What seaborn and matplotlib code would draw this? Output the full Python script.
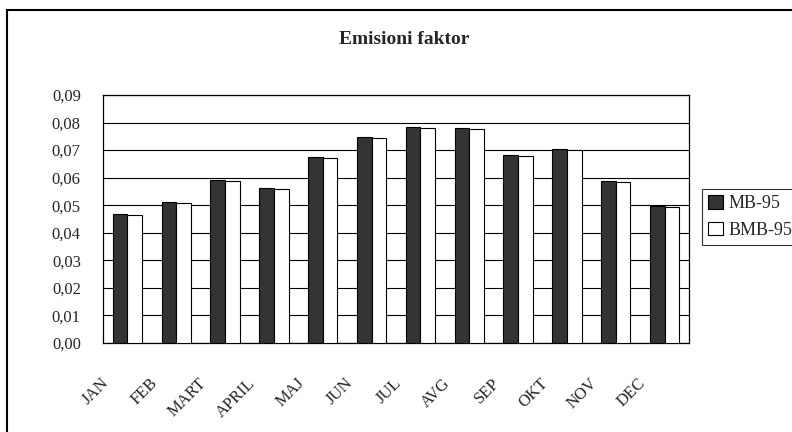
import matplotlib
matplotlib.use("Agg")
import matplotlib.pyplot as plt
import matplotlib.transforms as mtransforms
from matplotlib.patches import Rectangle, Patch
import seaborn as sns
import pandas as pd

# Monthly emission factors for the two fuel types
meseci = ["JAN", "FEB", "MART", "APRIL", "MAJ", "JUN", "JUL", "AVG", "SEP", "OKT", "NOV", "DEC"]
mb95 = [0.0468, 0.0512, 0.0590, 0.0562, 0.0675, 0.0747, 0.0785, 0.0781, 0.0682, 0.0705, 0.0588, 0.0496]
bmb95 = [0.0464, 0.0508, 0.0587, 0.0559, 0.0672, 0.0743, 0.0782, 0.0777, 0.0679, 0.0702, 0.0584, 0.0492]
serije = ["MB-95", "BMB-95"]
y_ticks = [0.00, 0.01, 0.02, 0.03, 0.04, 0.05, 0.06, 0.07, 0.08, 0.09]
naslov = "Emisioni faktor"

df = pd.DataFrame({
    "mesec": meseci * 2,
    "vrednost": mb95 + bmb95,
    "serija": [serije[0]] * len(meseci) + [serije[1]] * len(meseci),
})

sns.set_style("white")
plt.rcParams["font.family"] = ["Liberation Serif", "DejaVu Serif"]

W, H = 792, 432
fig = plt.figure(figsize=(W / 100, H / 100), dpi=100)
ax = fig.add_axes([103 / W, 1 - 343 / H, (689 - 103) / W, (343 - 95) / H])

sns.barplot(data=df, x="mesec", y="vrednost", hue="serija", order=meseci,
            hue_order=serije, palette=["#333333", "#ffffff"],
            edgecolor="black", linewidth=0.8, width=0.6, gap=0,
            saturation=1, ax=ax, legend=False, zorder=3)

ax.set_xlim(-0.5, len(meseci) - 0.5)
ax.set_ylim(0, 0.09)
ax.set_xlabel("")
ax.set_ylabel("")

# horizontal gridlines
ax.set_yticks(y_ticks)
ax.set_yticklabels([f"{v:.2f}".replace(".", ",") for v in y_ticks], fontsize=12)
ax.yaxis.grid(True, color="black", linewidth=0.8)
ax.set_axisbelow(True)
ax.tick_params(axis="y", direction="out", length=6, width=0.8, color="black", pad=10)

# category boundary ticks and rotated month labels
ax.set_xticks([i - 0.5 for i in range(len(meseci) + 1)], minor=True)
ax.tick_params(axis="x", which="minor", direction="out", length=5, width=0.8, color="black")
ax.set_xticks(range(len(meseci)))
ax.set_xticklabels(meseci, fontsize=12, rotation=45, ha="right", va="center",
                   rotation_mode="anchor")
ax.tick_params(axis="x", which="major", length=0, pad=0)
shift = mtransforms.ScaledTranslation(-21 / 100, -38 / 100, fig.dpi_scale_trans)
for lbl in ax.get_xticklabels():
    lbl.set_transform(lbl.get_transform() + shift)

for s in ax.spines.values():
    s.set_visible(True)
    s.set_color("black")
    s.set_linewidth(0.9)

fig.text(404 / W, 1 - 40 / H, naslov, ha="center", va="center",
         fontsize=14, fontweight="bold")

handles = [Patch(facecolor="#333333", edgecolor="black", linewidth=0.8),
           Patch(facecolor="#ffffff", edgecolor="black", linewidth=0.8)]
leg = fig.legend(handles, serije, loc="upper left",
                 bbox_to_anchor=(702 / W, 1 - 189 / H), fontsize=13,
                 frameon=True, fancybox=False, edgecolor="black",
                 handlelength=0.8, handleheight=0.8, handletextpad=0.3,
                 borderpad=0.35, labelspacing=0.5, borderaxespad=0)
leg.get_frame().set_linewidth(0.8)

# outer chart frame
fig.patches.append(Rectangle((7 / W, -0.2), 1.2, 1.2 - 10 / H,
                             transform=fig.transFigure, fill=False,
                             edgecolor="black", linewidth=1.5))

fig.savefig("out.png", dpi=100)
